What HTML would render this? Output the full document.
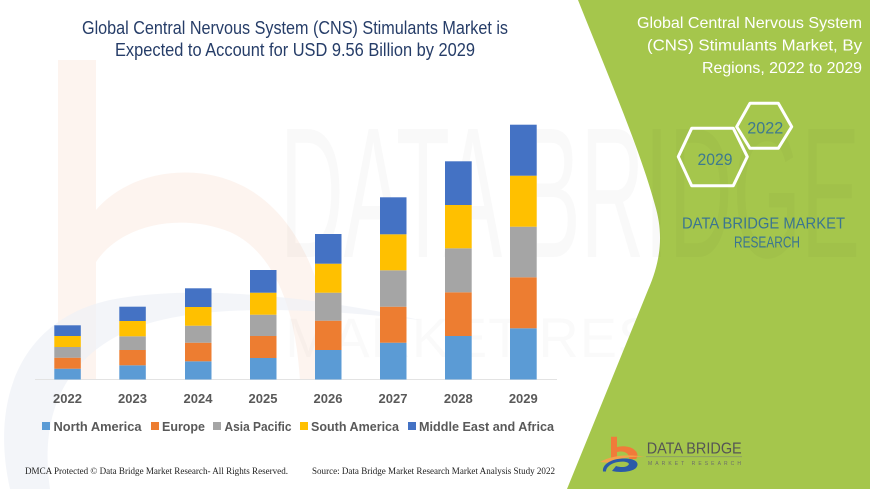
<!DOCTYPE html>
<html>
<head>
<meta charset="utf-8">
<style>
html,body{margin:0;padding:0;background:#fff;}
svg{display:block;}
text{font-family:"Liberation Sans",sans-serif;}
</style>
</head>
<body>
<svg width="870" height="489" viewBox="0 0 870 489" xmlns="http://www.w3.org/2000/svg">
  <rect width="870" height="489" fill="#ffffff"/>

  <!-- faint watermark: orange b -->
  <g opacity="0.5">
    <path d="M58,60 L96,60 L96,210 C130,170 200,160 250,190 C300,220 330,290 335,380 L300,380 C295,300 270,250 230,232 C180,212 120,225 96,262 L96,380 L58,380 Z" fill="#fbe9df"/>
  </g>
  <!-- faint swoosh -->
  <path d="M10,489 C-10,400 20,320 110,300 C200,282 330,300 420,320 C330,310 200,300 130,330 C60,360 40,420 50,489 Z" fill="#eef1f6" opacity="0.7"/>
  <!-- faint DATA BRIDGE -->
  <text x="280" y="257" font-size="186" textLength="580" lengthAdjust="spacingAndGlyphs" fill="#000" fill-opacity="0.022">DATA BRIDGE</text>
  <text x="285" y="357" font-size="56" textLength="570" lengthAdjust="spacing" fill="#000" fill-opacity="0.02">MARKET RESEARCH</text>

  <!-- green panel -->
  <path d="M578,0 L870,0 L870,489 L567,489 L648,290 C662,258 663,232 655,205 C640,150 610,80 578,0 Z" fill="#a5c64c"/>
  <clipPath id="gclip"><path d="M578,0 L870,0 L870,489 L567,489 L648,290 C662,258 663,232 655,205 C640,150 610,80 578,0 Z"/></clipPath>
  <text x="280" y="257" font-size="186" textLength="580" lengthAdjust="spacingAndGlyphs" fill="#000" fill-opacity="0.025" clip-path="url(#gclip)">DATA BRIDGE</text>

  <!-- left title -->
  <text x="295" y="34" font-size="18" fill="#263d68" text-anchor="middle" textLength="426" lengthAdjust="spacingAndGlyphs">Global Central Nervous System (CNS) Stimulants Market is</text>
  <text x="295" y="56" font-size="18" fill="#263d68" text-anchor="middle" textLength="360" lengthAdjust="spacingAndGlyphs">Expected to Account for USD 9.56 Billion by 2029</text>

  <!-- axis line -->
  <line x1="35" y1="379.5" x2="557" y2="379.5" stroke="#e3e3e3" stroke-width="1"/>

  <!-- bars -->
  <g>
    <rect x="54.3" y="368.7" width="26.5" height="10.8" fill="#5b9bd5"/>
    <rect x="54.3" y="357.7" width="26.5" height="11" fill="#ed7d31"/>
    <rect x="54.3" y="347" width="26.5" height="10.7" fill="#a5a5a5"/>
    <rect x="54.3" y="336" width="26.5" height="11" fill="#ffc000"/>
    <rect x="54.3" y="325.3" width="26.5" height="10.7" fill="#4472c4"/>
    <rect x="119.3" y="365.3" width="26.5" height="14.2" fill="#5b9bd5"/>
    <rect x="119.3" y="350" width="26.5" height="15.3" fill="#ed7d31"/>
    <rect x="119.3" y="336.3" width="26.5" height="13.7" fill="#a5a5a5"/>
    <rect x="119.3" y="321" width="26.5" height="15.3" fill="#ffc000"/>
    <rect x="119.3" y="306.7" width="26.5" height="14.3" fill="#4472c4"/>
    <rect x="185" y="361.3" width="26.5" height="18.2" fill="#5b9bd5"/>
    <rect x="185" y="342.7" width="26.5" height="18.6" fill="#ed7d31"/>
    <rect x="185" y="325.7" width="26.5" height="17" fill="#a5a5a5"/>
    <rect x="185" y="307" width="26.5" height="18.7" fill="#ffc000"/>
    <rect x="185" y="288.3" width="26.5" height="18.7" fill="#4472c4"/>
    <rect x="250" y="358" width="26.5" height="21.5" fill="#5b9bd5"/>
    <rect x="250" y="336" width="26.5" height="22" fill="#ed7d31"/>
    <rect x="250" y="314.7" width="26.5" height="21.3" fill="#a5a5a5"/>
    <rect x="250" y="292.7" width="26.5" height="22" fill="#ffc000"/>
    <rect x="250" y="270" width="26.5" height="22.7" fill="#4472c4"/>
    <rect x="315" y="350" width="26.5" height="29.5" fill="#5b9bd5"/>
    <rect x="315" y="320.7" width="26.5" height="29.3" fill="#ed7d31"/>
    <rect x="315" y="292.7" width="26.5" height="28" fill="#a5a5a5"/>
    <rect x="315" y="263.7" width="26.5" height="29" fill="#ffc000"/>
    <rect x="315" y="234" width="26.5" height="29.7" fill="#4472c4"/>
    <rect x="380" y="342.7" width="26.5" height="36.8" fill="#5b9bd5"/>
    <rect x="380" y="306.7" width="26.5" height="36" fill="#ed7d31"/>
    <rect x="380" y="270.3" width="26.5" height="36.4" fill="#a5a5a5"/>
    <rect x="380" y="234.3" width="26.5" height="36" fill="#ffc000"/>
    <rect x="380" y="197.3" width="26.5" height="37" fill="#4472c4"/>
    <rect x="445" y="336" width="26.7" height="43.5" fill="#5b9bd5"/>
    <rect x="445" y="292.3" width="26.7" height="43.7" fill="#ed7d31"/>
    <rect x="445" y="248.3" width="26.7" height="44" fill="#a5a5a5"/>
    <rect x="445" y="205" width="26.7" height="43.3" fill="#ffc000"/>
    <rect x="445" y="161.3" width="26.7" height="43.7" fill="#4472c4"/>
    <rect x="510" y="328.3" width="26.7" height="51.2" fill="#5b9bd5"/>
    <rect x="510" y="277.3" width="26.7" height="51" fill="#ed7d31"/>
    <rect x="510" y="226.7" width="26.7" height="50.6" fill="#a5a5a5"/>
    <rect x="510" y="175.7" width="26.7" height="51" fill="#ffc000"/>
    <rect x="510" y="124.7" width="26.7" height="51" fill="#4472c4"/>
  </g>

  <!-- year labels -->
  <g font-size="13" font-weight="bold" fill="#595959" text-anchor="middle">
    <text x="67.5" y="403">2022</text>
    <text x="132.5" y="403">2023</text>
    <text x="198" y="403">2024</text>
    <text x="263" y="403">2025</text>
    <text x="328" y="403">2026</text>
    <text x="393" y="403">2027</text>
    <text x="458.3" y="403">2028</text>
    <text x="523.3" y="403">2029</text>
  </g>

  <!-- legend -->
  <g font-size="13" font-weight="bold" fill="#595959">
    <rect x="42" y="422" width="8" height="8" fill="#5b9bd5"/>
    <text x="53.5" y="431" textLength="88" lengthAdjust="spacingAndGlyphs">North America</text>
    <rect x="151" y="422" width="8" height="8" fill="#ed7d31"/>
    <text x="162" y="431" textLength="43" lengthAdjust="spacingAndGlyphs">Europe</text>
    <rect x="213" y="422" width="8" height="8" fill="#a5a5a5"/>
    <text x="224.5" y="431" textLength="67" lengthAdjust="spacingAndGlyphs">Asia Pacific</text>
    <rect x="300" y="422" width="8" height="8" fill="#ffc000"/>
    <text x="311" y="431" textLength="88" lengthAdjust="spacingAndGlyphs">South America</text>
    <rect x="408" y="422" width="8" height="8" fill="#4472c4"/>
    <text x="419" y="431" textLength="135" lengthAdjust="spacingAndGlyphs">Middle East and Africa</text>
  </g>

  <!-- footer -->
  <g font-size="9" fill="#222">
    <text x="25" y="474" textLength="263" lengthAdjust="spacingAndGlyphs" style="font-family:'Liberation Serif',serif">DMCA Protected © Data Bridge Market Research- All Rights Reserved.</text>
    <text x="312" y="474" textLength="243" lengthAdjust="spacingAndGlyphs" style="font-family:'Liberation Serif',serif">Source: Data Bridge Market Research Market Analysis Study 2022</text>
  </g>

  <!-- right title -->
  <g font-size="16" fill="#ffffff" text-anchor="end">
    <text x="862" y="28" textLength="225" lengthAdjust="spacingAndGlyphs">Global Central Nervous System</text>
    <text x="862" y="50.5" textLength="215" lengthAdjust="spacingAndGlyphs">(CNS) Stimulants Market, By</text>
    <text x="862" y="73" textLength="160" lengthAdjust="spacingAndGlyphs">Regions, 2022 to 2029</text>
  </g>

  <!-- hexagons -->
  <g fill="none" stroke="#ffffff" stroke-width="3" stroke-linejoin="round">
    <polygon points="678.3,156.7 691.7,128.3 733.3,128.3 747.3,156.7 733.3,185.7 691.7,185.7"/>
    <polygon points="736.7,126.7 750,103.3 778.3,103.3 791.7,126.7 778.3,148.3 750,148.3"/>
  </g>
  <g font-size="17" fill="#3e7a8e" text-anchor="middle">
    <text x="715" y="165" textLength="35" lengthAdjust="spacingAndGlyphs">2029</text>
    <text x="765.3" y="133.3" textLength="36" lengthAdjust="spacingAndGlyphs">2022</text>
  </g>
  <g font-size="16" fill="#3b7590" text-anchor="middle">
    <text x="763.5" y="228.3" textLength="163" lengthAdjust="spacingAndGlyphs">DATA BRIDGE MARKET</text>
    <text x="767" y="247.7" textLength="66" lengthAdjust="spacingAndGlyphs">RESEARCH</text>
  </g>

  <!-- bottom logo -->
  <g>
    <path d="M611,436.7 L617,436.7 L617,447 C625,445 634,447 637,453 C638,456 637,458 636,459 L629,459 C630,455 626,451 620,451.5 L617,452 L617,458 L611,458 Z" fill="#f07b3a"/>
    <path d="M600,462 C612,455 630,454 645,457 C632,456 618,458 610,463 Z" fill="#f3a24b"/>
    <path d="M603,471.5 C602,464 612,458 626,458.5 C636,459 640,463 636,468 C632,472 620,473 612,471 L616,466 C622,468 628,467 629,464 C628,461 620,461 614,463 C609,465 606,468 606,471.5 Z" fill="#2b5aa8"/>
    <text x="646.7" y="453.3" font-size="16" fill="#555555" textLength="95" lengthAdjust="spacingAndGlyphs">DATA BRIDGE</text>
    <line x1="646" y1="456.7" x2="742" y2="456.7" stroke="#8a9a6a" stroke-width="0.8"/>
    <text x="648" y="465" font-size="5" fill="#6b6b6b" textLength="93" lengthAdjust="spacing">MARKET RESEARCH</text>
  </g>
</svg>
</body>
</html>
